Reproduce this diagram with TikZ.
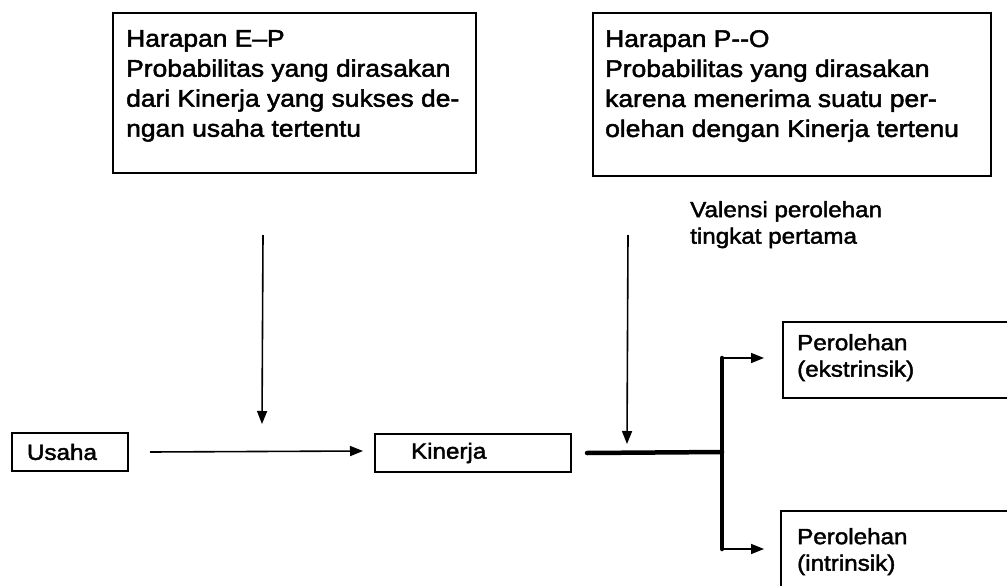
\documentclass[tikz,border=0pt]{standalone}
\usepackage{fontspec}
\setmainfont{Liberation Sans}[FakeStretch=1.1,FakeBold=2]
\usetikzlibrary{arrows.meta}
\tikzset{
  boxnode/.style={draw, line width=2pt, rectangle, inner sep=0pt, anchor=north west},
  bigtxt/.style={font=\fontsize{24}{30}\selectfont, align=left, inner sep=0pt, anchor=north west},
  smtxt/.style={font=\fontsize{22}{26.5}\selectfont, align=left, inner sep=0pt, anchor=north west},
  smbox/.style={boxnode, font=\fontsize{22}{26.5}\selectfont, align=left},
  arr/.style={line width=1.6pt, -{Triangle[length=13pt,width=10pt]}},
  thickln/.style={line width=4.5pt, line cap=round},
}
\begin{document}
\begin{tikzpicture}[x=1pt,y=-1pt]
\clip (0,0) rectangle (1007,586);
\fill[white] (0,0) rectangle (1007,586);

% top boxes
\node[boxnode, minimum width=363pt, minimum height=160pt] (ep) at (112,12) {};
\node[bigtxt] (eptxt) at (126,30) {Harapan E–P\\Probabilitas yang dirasakan\\dari Kinerja yang sukses de-\\ngan usaha tertentu};

\node[boxnode, minimum width=398pt, minimum height=163pt] (po) at (592,12) {};
\node[bigtxt] (potxt) at (605,30) {Harapan P-{}-O\\Probabilitas yang dirasakan\\karena menerima suatu per-\\olehan dengan Kinerja tertenu};

\node[smtxt] (val) at (690,201) {Valensi perolehan\\tingkat pertama};

% main row
\node[smbox, minimum width=116pt, minimum height=38pt, text width=86pt, inner xsep=15pt] (us) at (11,432) {Usaha};
\node[smbox, minimum width=196pt, minimum height=38pt, text width=124pt, inner xsep=36pt] (ki) at (374,433) {Kinerja};

% outcome boxes
\node[boxnode, minimum width=240pt, minimum height=76pt] (pe) at (782,321) {};
\node[smtxt] (petxt) at (797,334) {Perolehan\\(ekstrinsik)};
\node[boxnode, minimum width=240pt, minimum height=100pt] (pi) at (780,510) {};
\node[smtxt] (pitxt) at (797,528) {Perolehan\\(intrinsik)};

% coordinates
\coordinate (epend) at (262,424);
\coordinate (poend) at (627,444);
\coordinate (usend) at (363,451);
\coordinate (j) at (722,452);
\coordinate (bt) at (722,358);
\coordinate (bb) at (722,549);
\coordinate (pet) at (764,358);
\coordinate (pit) at (764,549);

% connectors
\draw[arr] ([xshift=-31.5pt,yshift=-61pt]ep.south) -- (epend);
\draw[arr] ([xshift=-164pt,yshift=-58pt]po.south) -- (poend);
\draw[arr] ([xshift=21pt]us.east) -- (usend);
\draw[thickln] ([xshift=15pt]ki.east) -- (j);
\draw[thickln] (bt) -- (bb);
\draw[arr] (bt) -- (pet);
\draw[arr] (bb) -- (pit);
\end{tikzpicture}
\end{document}
